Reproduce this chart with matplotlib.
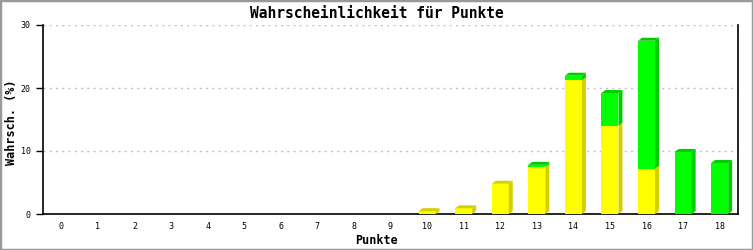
import matplotlib
matplotlib.use("Agg")
import matplotlib.pyplot as plt
from matplotlib.patches import Polygon, Rectangle

plt.rcParams['font.family'] = ['DejaVu Sans Mono']

punkte = list(range(19))
gelb = [0, 0, 0, 0, 0, 0, 0, 0, 0, 0, 0.45, 0.9, 4.8, 7.45, 21.2, 14.0, 7.2, 0, 0]
gruen = [0, 0, 0, 0, 0, 0, 0, 0, 0, 0, 0, 0, 0, 0.35, 0.75, 5.2, 20.3, 9.85, 8.1]

titel = 'Wahrscheinlichkeit für Punkte'
y_ticks = [0, 10, 20, 30]

W, H = 753, 250
fig = plt.figure(figsize=(W / 100, H / 100), dpi=100)
ax = fig.add_axes([43 / W, 36 / H, (738 - 43) / W, (225 - 36) / H])

xmin, xmax = -0.5, 18.5
ymin, ymax = 0, 30
ax.set_xlim(xmin, xmax)
ax.set_ylim(ymin, ymax)

# Tiefe des 3D-Effekts: 4 px nach rechts, 3 px nach oben
dx = 4 * (xmax - xmin) / (738 - 43)
dy = 3 * (ymax - ymin) / (225 - 36)
bw = 0.465

farben = {'gelb': ('#ffff00', '#d2d000'), 'gruen': ('#00ff00', '#00cc00')}

ax.bar(punkte, gelb, width=bw, color=farben['gelb'][0], zorder=3)
ax.bar(punkte, gruen, width=bw, bottom=gelb, color=farben['gruen'][0], zorder=3)

for x, g, r in zip(punkte, gelb, gruen):
    segmente = []
    if g > 0:
        segmente.append((0, g, 'gelb'))
    if r > 0:
        segmente.append((g, g + r, 'gruen'))
    for y0, y1, f in segmente:
        rx = x + bw / 2
        ax.add_patch(Polygon([(rx, y0), (rx + dx, y0 + dy), (rx + dx, y1 + dy), (rx, y1)],
                             closed=True, color=farben[f][1], lw=0, zorder=3))
    if segmente:
        top, f = segmente[-1][1], segmente[-1][2]
        lx = x - bw / 2
        ax.add_patch(Polygon([(lx, top), (lx + dx, top + dy), (x + bw / 2 + dx, top + dy), (x + bw / 2, top)],
                             closed=True, color=farben[f][1], lw=0, zorder=3))

ax.set_yticks(y_ticks)
ax.set_xticks(punkte)
ax.tick_params(axis='y', length=5, width=1, labelsize=6, pad=4)
ax.tick_params(axis='x', length=0, labelsize=6, pad=6)
for t in y_ticks[1:]:
    ax.axhline(t, color='#c0c0c0', lw=1, ls=(0, (1.5, 3)), zorder=1)

ax.spines['top'].set_visible(False)
for s in ['left', 'bottom', 'right']:
    ax.spines[s].set_linewidth(1.2)
    ax.spines[s].set_color('black')

fig.text(0.5, 1 - 13 / H, titel, ha='center', va='center', fontsize=10.5, fontweight='bold')
fig.text(0.5, 1 - 240 / H, 'Punkte', ha='center', va='center', fontsize=8.5, fontweight='bold')
fig.text(12 / W, 1 - 122 / H, 'Wahrsch. (%)', ha='center', va='center', rotation=90,
         fontsize=8.5, fontweight='bold')

fig.patches.append(Rectangle((0, 0), 1, 1, transform=fig.transFigure, fill=False,
                             edgecolor='#999999', lw=2.5))

fig.savefig('out.png', dpi=100)
